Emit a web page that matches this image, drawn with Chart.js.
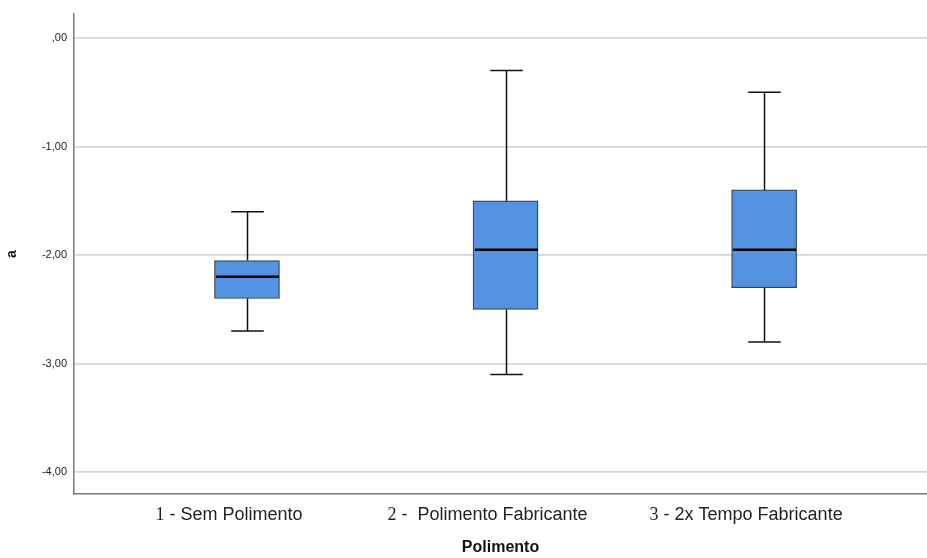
<!DOCTYPE html>
<html>
<head>
<meta charset="utf-8">
<script src="https://cdn.jsdelivr.net/npm/chart.js@4"></script>
<style>
  html, body { margin: 0; padding: 0; background: #fff; }
  #wrap { width: 927px; height: 558px; position: relative; }
</style>
</head>
<body>
<div id="wrap"><canvas id="boxChart"></canvas></div>
<script>
// categories and box plot values
const categoryNumbers = ["1", "2", "3"];
const categoryNames = [" - Sem Polimento", " -  Polimento Fabricante", " - 2x Tempo Fabricante"];
const positions = [1, 2, 3];
const whiskerLow = [-2.70, -3.10, -2.80];
const q1 = [-2.40, -2.50, -2.30];
const median = [-2.20, -1.95, -1.95];
const q3 = [-2.05, -1.50, -1.40];
const whiskerHigh = [-1.60, -0.30, -0.50];
const yTicks = [0, -1, -2, -3, -4];

const boxData = positions.map((p, i) => ({ x: p, y: [q1[i], q3[i]] }));

// whiskers, caps and medians, placed with the chart's scales
const whiskers = {
  id: "whiskers",
  afterDatasetsDraw(chart) {
    const ctx = chart.ctx;
    const xs = chart.scales.x, ys = chart.scales.y;
    const meta = chart.getDatasetMeta(0);
    ctx.save();
    positions.forEach((p, i) => {
      const x = Math.round(xs.getPixelForValue(p)) + 0.5;
      const w = meta.data[i].width;
      const cap = w / 2;
      const hi = ys.getPixelForValue(whiskerHigh[i]);
      const lo = ys.getPixelForValue(whiskerLow[i]);
      ctx.strokeStyle = "#111";
      ctx.lineWidth = 1.5;
      ctx.beginPath();
      ctx.moveTo(x, ys.getPixelForValue(q3[i]));
      ctx.lineTo(x, hi);
      ctx.moveTo(x, ys.getPixelForValue(q1[i]));
      ctx.lineTo(x, lo);
      ctx.moveTo(x - cap / 2, hi);
      ctx.lineTo(x + cap / 2, hi);
      ctx.moveTo(x - cap / 2, lo);
      ctx.lineTo(x + cap / 2, lo);
      ctx.stroke();
      ctx.strokeStyle = "#000";
      ctx.lineWidth = 2.5;
      ctx.beginPath();
      ctx.moveTo(x - w / 2 + 1, ys.getPixelForValue(median[i]));
      ctx.lineTo(x + w / 2 - 1, ys.getPixelForValue(median[i]));
      ctx.stroke();
    });
    ctx.restore();
  }
};

// category labels: serif number followed by sans text
const catLabels = {
  id: "catLabels",
  afterDraw(chart) {
    const ctx = chart.ctx;
    const xs = chart.scales.x;
    const numFont = "18px 'Liberation Serif', 'Times New Roman', serif";
    const txtFont = "18px 'Liberation Sans', Arial, sans-serif";
    ctx.save();
    ctx.fillStyle = "#222";
    ctx.textBaseline = "alphabetic";
    ctx.textAlign = "left";
    positions.forEach((p, i) => {
      ctx.font = numFont;
      const wn = ctx.measureText(categoryNumbers[i]).width;
      ctx.font = txtFont;
      const wt = ctx.measureText(categoryNames[i]).width;
      const start = xs.getPixelForValue(p) - 18 - (wn + wt) / 2;
      const y = xs.top + 26;
      ctx.font = numFont;
      ctx.fillText(categoryNumbers[i], start, y);
      ctx.font = txtFont;
      ctx.fillText(categoryNames[i], start + wn, y);
    });
    ctx.restore();
  }
};

new Chart(document.getElementById("boxChart"), {
  type: "bar",
  data: {
    datasets: [{
      data: boxData,
      backgroundColor: "#5393e2",
      borderColor: "#3a3f48",
      borderWidth: 1.2,
      borderSkipped: false,
      barThickness: 65
    }]
  },
  options: {
    responsive: true,
    maintainAspectRatio: false,
    animation: false,
    layout: { padding: { top: 14, right: 0, left: 0, bottom: 0 } },
    plugins: { legend: { display: false }, tooltip: { enabled: false } },
    scales: {
      x: {
        type: "linear",
        offset: false,
        min: 0.331,
        max: 3.63,
        afterBuildTicks: s => { s.ticks = positions.map(v => ({ value: v })); },
        afterFit: s => { s.height = 64; },
        grid: { display: false, offset: false },
        border: { display: true, color: "#7a7a7a", width: 1.5 },
        ticks: { display: false },
        title: {
          display: true,
          text: "Polimento",
          color: "#111",
          font: { family: "Arial, 'Liberation Sans'", size: 16, weight: "bold" },
          padding: { top: 4, bottom: 1 }
        }
      },
      y: {
        min: -4.2,
        max: 0.22,
        afterBuildTicks: s => { s.ticks = yTicks.map(v => ({ value: v })); },
        afterFit: s => { s.width = 74; },
        grid: { color: "#d6d6d6", lineWidth: 1.8, drawTicks: false },
        border: { display: true, color: "#7a7a7a", width: 1.5 },
        ticks: {
          padding: 7,
          color: "#222",
          font: { family: "Arial, 'Liberation Sans'", size: 11 },
          callback: v => v === 0 ? ",00" : v.toFixed(2).replace(".", ",")
        },
        title: {
          display: true,
          text: "a",
          color: "#111",
          font: { family: "Arial, 'Liberation Sans'", size: 14, weight: "bold" },
          padding: { top: 4, bottom: 4 }
        }
      }
    }
  },
  plugins: [whiskers, catLabels]
});
</script>
</body>
</html>
